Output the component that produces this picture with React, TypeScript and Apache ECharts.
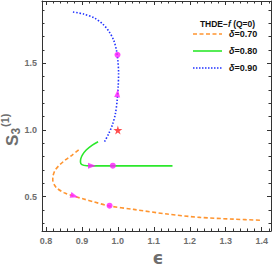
import React, { useEffect, useRef } from "react";
import * as echarts from "echarts";

// δ = 0.70 (orange dashed)
const orangeX = [0.891, 0.872, 0.854, 0.838, 0.826, 0.82, 0.819, 0.823, 0.831, 0.85, 0.877, 0.905, 0.933, 0.974, 1.044, 1.137, 1.229, 1.322, 1.396];
const orangeY = [0.85, 0.81, 0.775, 0.738, 0.7, 0.66, 0.625, 0.59, 0.562, 0.53, 0.504, 0.482, 0.461, 0.431, 0.404, 0.369, 0.344, 0.331, 0.323];
// δ = 0.80 (green solid)
const greenX = [0.945, 0.928, 0.912, 0.902, 0.897, 0.896, 0.9, 0.914, 0.94, 1.0, 1.08, 1.152];
const greenY = [0.912, 0.885, 0.85, 0.815, 0.785, 0.76, 0.74, 0.732, 0.731, 0.731, 0.731, 0.731];
// δ = 0.90 (blue dotted)
const blueX = [0.963, 0.975, 0.985, 0.993, 0.998, 1.001, 1.002, 1.0, 0.996, 0.988, 0.975, 0.958, 0.935, 0.905, 0.871];
const blueY = [0.912, 0.975, 1.04, 1.12, 1.22, 1.33, 1.43, 1.52, 1.6, 1.677, 1.74, 1.795, 1.84, 1.87, 1.887];

// markers
const dotX = [0.999, 0.986, 0.977];
const dotY = [1.564, 0.732, 0.432];
const arrowX = [0.999, 0.928, 0.879];
const arrowY = [1.275, 0.732, 0.504];
const arrowAngle = [-5, -90, -108];
const starX = [1.0];
const starY = [1.0];

const xMajor = [0.8, 0.9, 1.0, 1.1, 1.2, 1.3, 1.4];
const xMinor = [0.82, 0.84, 0.86, 0.88, 0.92, 0.94, 0.96, 0.98, 1.02, 1.04, 1.06, 1.08, 1.12, 1.14, 1.16, 1.18, 1.22, 1.24, 1.26, 1.28, 1.32, 1.34, 1.36, 1.38, 1.42];
const yMajor = [0.5, 1.0, 1.5];
const yMinor = [0.3, 0.4, 0.6, 0.7, 0.8, 0.9, 1.1, 1.2, 1.3, 1.4, 1.6, 1.7, 1.8, 1.9];

const legendNames = ["0.70", "0.80", "0.90"];

const X_MIN = 0.789, X_MAX = 1.426, Y_MIN = 0.242, Y_MAX = 1.968;

const zip = (xs: number[], ys: number[]) => xs.map((x, i) => [x, ys[i]]);

const FRAME = "#333333";
const LABEL = "#6e6e6e";
const ORANGE = "#FF9530";
const GREEN = "#2BE82B";
const BLUE = "#2233FF";
const MAGENTA = "#FF1CFF";

function axis(dim: "x" | "y", position: string, ticks: number[], len: number, showLine: boolean, labels: boolean) {
  const min = dim === "x" ? X_MIN : Y_MIN;
  const max = dim === "x" ? X_MAX : Y_MAX;
  return {
    type: "value",
    position,
    min,
    max,
    axisLine: { show: showLine, onZero: false, lineStyle: { color: FRAME, width: 1 } },
    axisTick: { show: true, inside: true, length: len, customValues: ticks, lineStyle: { color: FRAME, width: 1 } },
    axisLabel: labels
      ? {
          show: true,
          customValues: ticks,
          formatter: (v: number) => v.toFixed(1),
          color: LABEL,
          fontSize: 9,
          fontWeight: "bold",
          fontFamily: "Liberation Sans",
          margin: 5,
        }
      : { show: false },
    splitLine: { show: false },
    minorTick: { show: false },
  };
}

export default function App() {
  const ref = useRef<HTMLDivElement>(null);
  useEffect(() => {
    if (!ref.current) return;
    const chart = echarts.init(ref.current, undefined, { renderer: "svg" });
    const starPath = "path://M50,0 L61,35 L98,35 L68,57 L79,91 L50,70 L21,91 L32,57 L2,35 L39,35 Z";
    const legendColors = [ORANGE, GREEN, BLUE];
    const legendDash: any[] = [[4, 2.5], null, [1.5, 1.5]];
    const legendRowsY = [34, 51, 68];
    const legendGraphics: any[] = [];
    legendNames.forEach((n, i) => {
      legendGraphics.push({
        type: "line",
        shape: { x1: 193, y1: legendRowsY[i], x2: 222, y2: legendRowsY[i] },
        style: { stroke: legendColors[i], lineWidth: 1.6, lineDash: legendDash[i] || undefined },
      });
      legendGraphics.push({
        type: "text",
        x: 229,
        y: legendRowsY[i],
        style: {
          text: "{i|δ}=" + n,
          fill: "#111",
          font: "bold 9px 'Liberation Sans'",
          align: "left",
          verticalAlign: "middle",
          rich: { i: { fontStyle: "italic", fontWeight: "bold", fontSize: 9, fontFamily: "Liberation Sans", fill: "#111" } },
        },
      });
    });
    chart.setOption({
      animation: false,
      backgroundColor: "#ffffff",
      grid: { left: 42, right: 2, top: 1, bottom: 42, containLabel: false },
      xAxis: [
        axis("x", "bottom", xMajor, 4, true, true),
        axis("x", "bottom", xMinor, 2.5, false, false),
        axis("x", "top", xMajor, 4, true, false),
        axis("x", "top", xMinor, 2.5, false, false),
      ],
      yAxis: [
        axis("y", "left", yMajor, 4, true, true),
        axis("y", "left", yMinor, 2.5, false, false),
        axis("y", "right", yMajor, 4, true, false),
        axis("y", "right", yMinor, 2.5, false, false),
      ],
      series: [
        {
          name: "δ=0.70",
          type: "line",
          data: zip(orangeX, orangeY),
          smooth: 0.3,
          showSymbol: false,
          lineStyle: { color: ORANGE, width: 1.6, type: [4, 2.5] },
        },
        {
          name: "δ=0.80",
          type: "line",
          data: zip(greenX, greenY),
          smooth: 0.3,
          showSymbol: false,
          lineStyle: { color: GREEN, width: 1.6, type: "solid" },
        },
        {
          name: "δ=0.90",
          type: "line",
          data: zip(blueX, blueY),
          smooth: 0.3,
          showSymbol: false,
          lineStyle: { color: BLUE, width: 1.6, type: [1.5, 1.8] },
        },
        {
          type: "scatter",
          data: zip(dotX, dotY),
          symbol: "circle",
          symbolSize: 6,
          itemStyle: { color: MAGENTA },
          z: 5,
        },
        {
          type: "scatter",
          data: arrowX.map((x, i) => ({ value: [x, arrowY[i]], symbolRotate: arrowAngle[i] })),
          symbol: "triangle",
          symbolSize: [6, 8],
          itemStyle: { color: MAGENTA },
          z: 5,
        },
        {
          type: "scatter",
          data: zip(starX, starY),
          symbol: starPath,
          symbolSize: 9,
          itemStyle: { color: "#FF2020" },
          z: 5,
        },
      ],
      graphic: [
        {
          type: "text",
          x: 158,
          y: 258,
          style: { text: "ϵ", fill: LABEL, font: "bold 17px 'DejaVu Sans'", align: "center", verticalAlign: "middle" },
        },
        {
          type: "group",
          x: 12,
          y: 122,
          rotation: Math.PI / 2,
          children: [
            { type: "text", x: -24, y: 0, style: { text: "S", fill: LABEL, font: "bold 17px 'Liberation Sans'", align: "left", verticalAlign: "middle" } },
            { type: "text", x: -12.5, y: 3.5, style: { text: "3", fill: LABEL, font: "bold 12px 'Liberation Sans'", align: "left", verticalAlign: "middle" } },
            { type: "text", x: -5, y: -7, style: { text: "(1)", fill: LABEL, font: "bold 11px 'Liberation Sans'", align: "left", verticalAlign: "middle" } },
          ],
        },
        {
          type: "text",
          x: 227.5,
          y: 24,
          style: {
            text: "THDE−{i|f} (Q=0)",
            fill: "#111",
            font: "bold 8.5px 'Liberation Sans'",
            align: "center",
            verticalAlign: "middle",
            rich: { i: { fontStyle: "italic", fontWeight: "bold", fontSize: 8.5, fontFamily: "Liberation Sans", fill: "#111" } },
          },
        },
        ...legendGraphics,
      ],
    });
    return () => chart.dispose();
  }, []);
  return <div ref={ref} style={{ position: "fixed", left: 0, top: 0, width: 273, height: 273 }} />;
}
